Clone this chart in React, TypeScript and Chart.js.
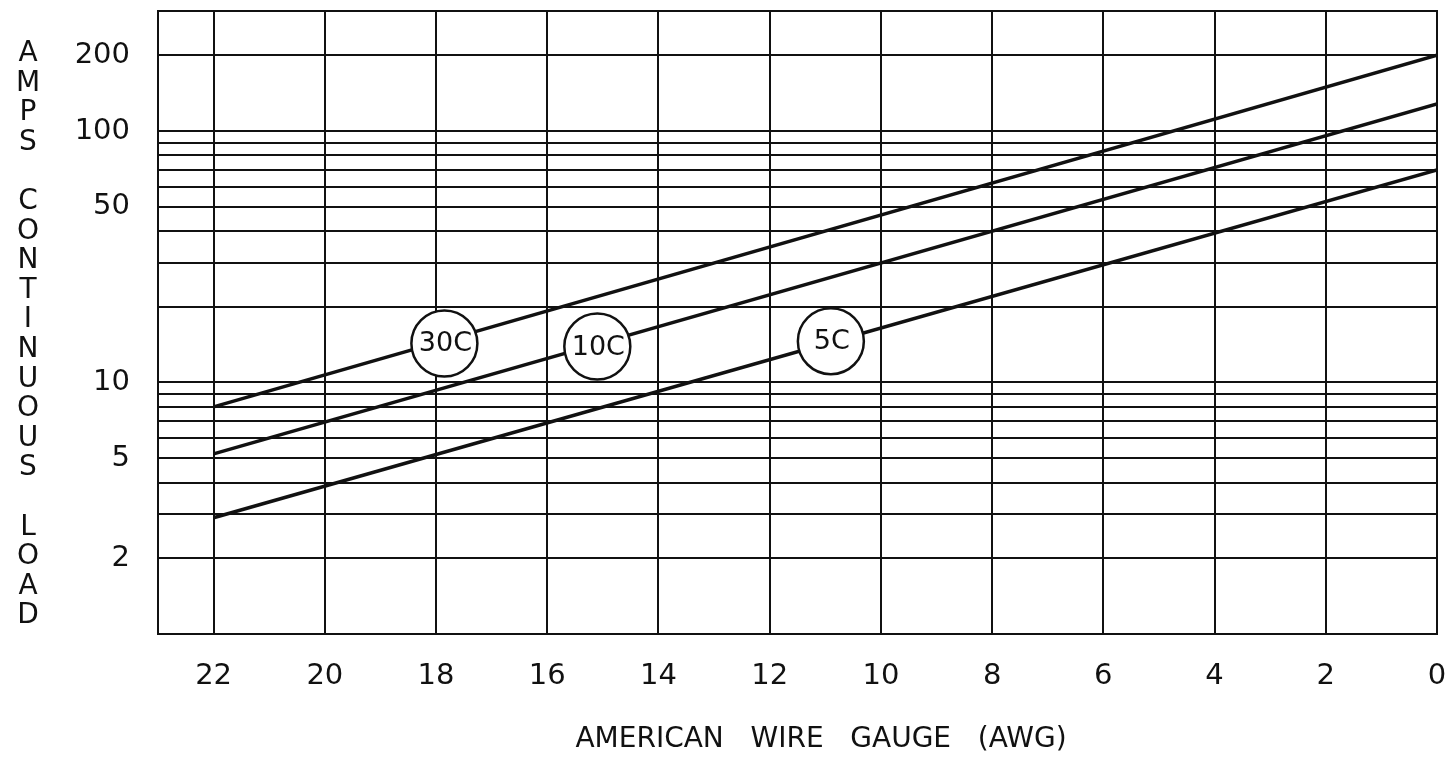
import React, { useEffect, useRef } from 'react';
import { Chart, registerables } from 'chart.js';

Chart.register(...registerables);

// ---- data ----
const GAUGE_TICKS = [22, 20, 18, 16, 14, 12, 10, 8, 6, 4, 2, 0];
const AMP_GRID = [2, 3, 4, 5, 6, 7, 8, 9, 10, 20, 30, 40, 50, 60, 70, 80, 90, 100, 200];
const AMP_LABELS = [2, 5, 10, 50, 100, 200];
const GAUGE_ENDS = [22, 0];
const AMPS_30C = [8.0, 200];
const AMPS_10C = [5.2, 128];
const AMPS_5C = [2.9, 70];
const CURVE_NAMES = ['30C', '10C', '5C'];
const TAG_GAUGE = [17.85, 15.1, 10.9];
const TAG_AMPS = [14.3, 13.9, 14.6];
const Y_TITLE = 'AMPS CONTINUOUS LOAD';
const X_TITLE = 'AMERICAN   WIRE   GAUGE   (AWG)';

const INK = '#111111';
const FONT = 'DejaVu Sans';

const pairs = (xs: number[], ys: number[]) => xs.map((x, i) => ({ x, y: ys[i] }));

const decorPlugin = {
  id: 'decor',
  afterDatasetsDraw(chart: any) {
    const ctx = chart.ctx;
    const meta = chart.getDatasetMeta(0);
    ctx.save();
    ctx.fillStyle = INK;
    ctx.font = `27px "${FONT}"`;
    ctx.textAlign = 'center';
    ctx.textBaseline = 'middle';
    meta.data.forEach((pt: any, i: number) => {
      ctx.fillText(CURVE_NAMES[i], pt.x + 1, pt.y + 1);
    });
    ctx.restore();
  },
  afterDraw(chart: any) {
    const ctx = chart.ctx;
    const a = chart.chartArea;
    ctx.save();
    ctx.strokeStyle = INK;
    ctx.lineWidth = 2;
    ctx.strokeRect(a.left, a.top, a.right - a.left, a.bottom - a.top);
    ctx.fillStyle = INK;
    ctx.font = `28px "${FONT}"`;
    ctx.textAlign = 'center';
    ctx.textBaseline = 'alphabetic';
    // vertical stacked y title
    const pitch = 29.6;
    const firstCenter = 51;
    for (let i = 0; i < Y_TITLE.length; i++) {
      const ch = Y_TITLE[i];
      if (ch === ' ') continue;
      ctx.fillText(ch, 28, firstCenter + i * pitch + 10);
    }
    // x title
    ctx.fillText(X_TITLE, 821, 747);
    ctx.restore();
  },
};

const clearPad = (s: any) => {
  s.paddingTop = 0;
  s.paddingBottom = 0;
  s.paddingLeft = 0;
  s.paddingRight = 0;
};

export default function App() {
  const ref = useRef<HTMLCanvasElement | null>(null);

  useEffect(() => {
    if (!ref.current) return;
    const tickFont = { family: FONT, size: 29 };
    const chart = new Chart(ref.current, {
      type: 'scatter',
      data: {
        datasets: [
          {
            label: 'tags',
            data: pairs(TAG_GAUGE, TAG_AMPS),
            showLine: false,
            pointRadius: 33,
            pointHoverRadius: 33,
            pointBackgroundColor: '#ffffff',
            pointBorderColor: INK,
            pointBorderWidth: 2.5,
            order: 0,
          },
          {
            label: '30C',
            data: pairs(GAUGE_ENDS, AMPS_30C),
            showLine: true,
            borderColor: INK,
            borderWidth: 3.5,
            pointRadius: 0,
            order: 1,
          },
          {
            label: '10C',
            data: pairs(GAUGE_ENDS, AMPS_10C),
            showLine: true,
            borderColor: INK,
            borderWidth: 3.5,
            pointRadius: 0,
            order: 1,
          },
          {
            label: '5C',
            data: pairs(GAUGE_ENDS, AMPS_5C),
            showLine: true,
            borderColor: INK,
            borderWidth: 3.5,
            pointRadius: 0,
            order: 1,
          },
        ],
      },
      options: {
        responsive: false,
        animation: false,
        layout: { autoPadding: false, padding: { top: 11, right: 16, left: 0, bottom: 0 } },
        plugins: {
          legend: { display: false },
          tooltip: { enabled: false },
        },
        scales: {
          x: {
            type: 'linear',
            reverse: true,
            min: 0,
            max: 23,
            afterBuildTicks: (s: any) => {
              s.ticks = GAUGE_TICKS.map((v) => ({ value: v }));
            },
            afterFit: (s: any) => {
              s.height = 123;
              clearPad(s);
            },
            ticks: {
              autoSkip: false,
              maxRotation: 0,
              padding: 25,
              color: INK,
              font: tickFont,
              callback: (v: any) => String(v),
            },
            grid: { color: INK, lineWidth: 2, drawTicks: false },
            border: { color: INK, width: 2 },
          },
          y: {
            type: 'logarithmic',
            min: 1,
            max: 300,
            afterBuildTicks: (s: any) => {
              s.ticks = AMP_GRID.map((v) => ({ value: v }));
            },
            afterFit: (s: any) => {
              s.width = 158;
              clearPad(s);
            },
            ticks: {
              autoSkip: false,
              padding: 28,
              color: INK,
              font: tickFont,
              callback: (v: any) => (AMP_LABELS.includes(Number(v)) ? String(v) : ''),
            },
            grid: { color: INK, lineWidth: 2, drawTicks: false },
            border: { color: INK, width: 2 },
          },
        },
      },
      plugins: [decorPlugin],
    } as any);
    return () => chart.destroy();
  }, []);

  return (
    <div style={{ position: 'fixed', left: 0, top: 0, width: 1453, height: 757, background: '#fff' }}>
      <canvas ref={ref} width={1453} height={757} />
    </div>
  );
}
